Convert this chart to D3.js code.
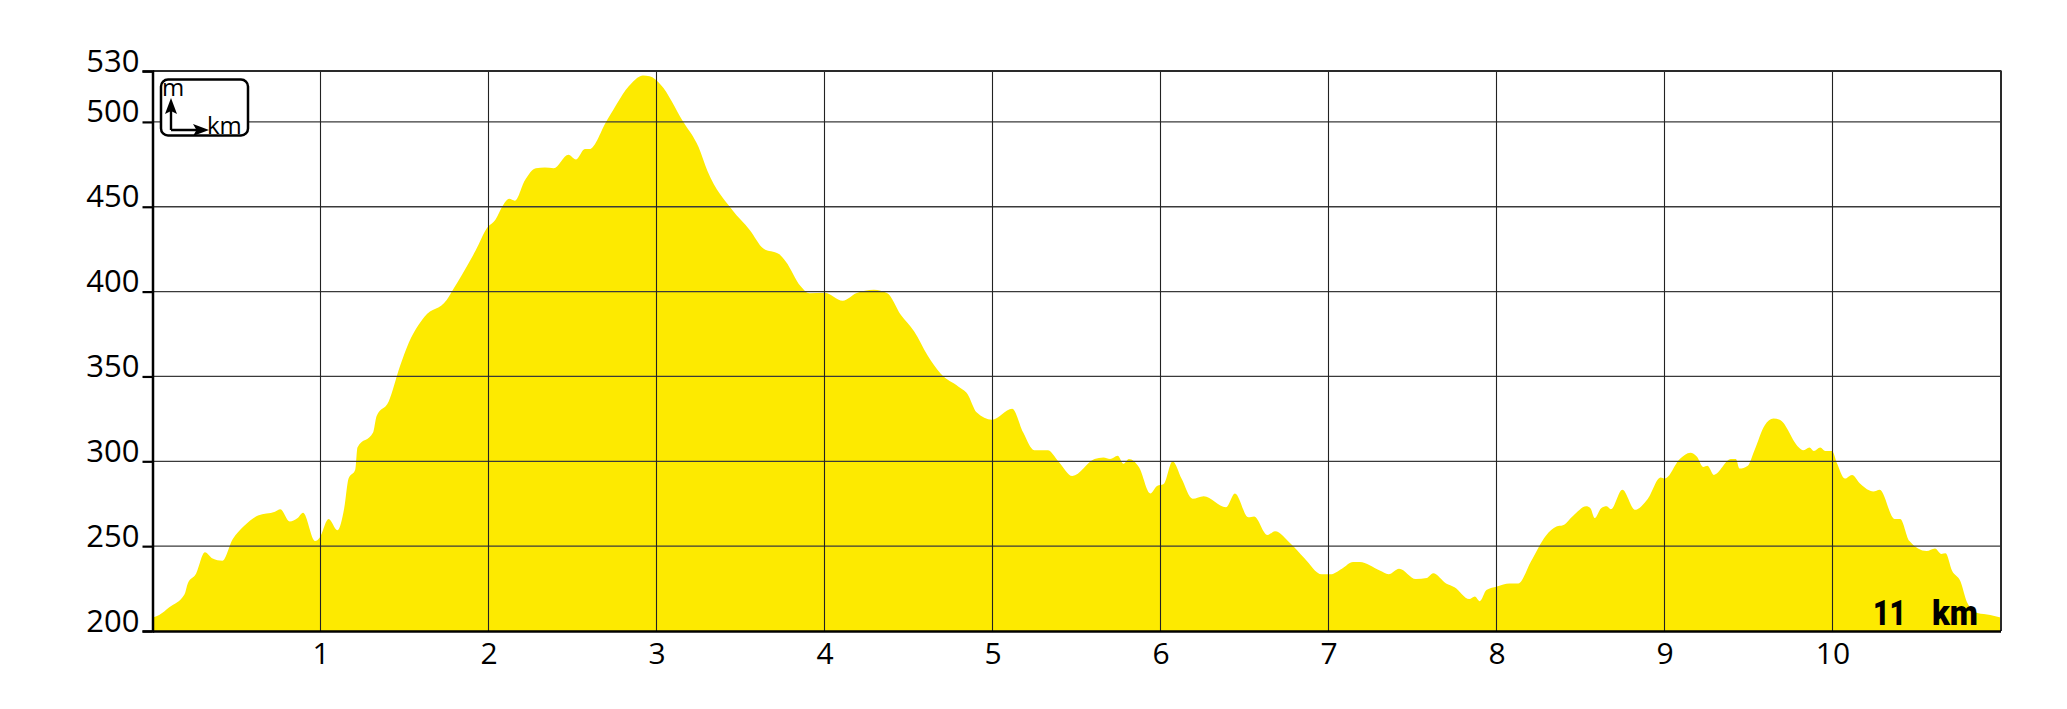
<!DOCTYPE html>
<html>
<head>
<meta charset="utf-8">
<script src="https://cdn.jsdelivr.net/npm/d3@7/dist/d3.min.js"></script>
<style>
  html, body { margin: 0; padding: 0; background: #fff; }
  svg { display: block; }
</style>
</head>
<body>
<svg id="chart" width="2067" height="709"></svg>
<script>
// ---- data ----
const distanceKm = [
  0.00, 0.04, 0.10, 0.19, 0.21, 0.257, 0.312, 0.358, 0.416, 0.477, 0.543, 0.628, 0.729, 0.761,
  0.817, 0.862, 0.896, 0.968, 0.995, 1.048, 1.101, 1.141, 1.167, 1.207, 1.22, 1.313, 1.334,
  1.406, 1.473, 1.526, 1.619, 1.751, 1.791, 1.844, 1.924, 1.99, 2.043, 2.083, 2.123, 2.157,
  2.216, 2.282, 2.335, 2.388, 2.476, 2.521, 2.574, 2.60, 2.707, 2.853, 2.919, 2.959, 3.025,
  3.158, 3.251, 3.304, 3.45, 3.556, 3.636, 3.729, 3.769, 3.857, 3.91, 4.00, 4.109, 4.188,
  4.294, 4.374, 4.454, 4.533, 4.613, 4.692, 4.798, 4.851, 4.905, 4.997, 5.117, 5.183, 5.249,
  5.329, 5.395, 5.475, 5.607, 5.66, 5.70, 5.745, 5.78, 5.812, 5.873, 5.939, 5.979, 6.019,
  6.072, 6.125, 6.191, 6.257, 6.39, 6.443, 6.523, 6.557, 6.637, 6.682, 6.775, 6.854, 6.96,
  7.013, 7.08, 7.146, 7.186, 7.305, 7.358, 7.42, 7.52, 7.585, 7.623, 7.70, 7.75, 7.838,
  7.871, 7.901, 7.94, 8.003, 8.078, 8.129, 8.205, 8.294, 8.357, 8.395, 8.458, 8.534, 8.559,
  8.585, 8.623, 8.656, 8.681, 8.749, 8.825, 8.901, 8.977, 9.003, 9.091, 9.154, 9.192, 9.23,
  9.256, 9.294, 9.395, 9.425, 9.446, 9.496, 9.534, 9.597, 9.648, 9.686, 9.80, 9.825, 9.863,
  9.889, 9.927, 9.957, 9.997, 10.028, 10.073, 10.116, 10.167, 10.243, 10.281, 10.37, 10.403,
  10.458, 10.56, 10.61, 10.648, 10.673, 10.711, 10.762, 10.80, 10.863, 10.939, 11.00
];
const elevationM = [
  208, 209.5, 214, 221.5, 228, 233.4, 246.4, 242.7, 241.4, 254, 261.7, 268.1, 270.3, 271.8,
  264.5, 266.4, 269.7, 253, 255, 266, 259.4, 272.4, 289.8, 295.2, 308.2, 316.9, 326.7,
  335.3, 356, 370, 385.2, 395, 401.5, 410.2, 424.3, 437.3, 442.7, 450.3, 454.7, 453.6,
  465.5, 472.7, 473.1, 472.7, 480.7, 477.9, 484, 484, 501.3, 523, 527.3, 526.9, 521.9,
  500.2, 485, 470.9, 448.2, 436.2, 425.4, 422.1, 417.8, 403.3, 399, 399.3, 394.6, 399,
  401.1, 399, 386.3, 376.6, 362.5, 351.6, 344, 339.7, 328.9, 324.5, 331, 316.9, 306.5,
  306.5, 299.6, 291.3, 301.3, 302.2, 301.3, 303.3, 298.5, 301.3, 296.3, 281.1, 285.5, 286.6,
  300, 289.8, 277.9, 279.4, 272.9, 281.1, 267, 267.5, 256.6, 258.8, 251.4, 243.2, 233.4,
  233.4, 236.7, 240.6, 240.6, 235.6, 233.4, 236.7, 230.6, 231.2, 234, 228, 225.8, 218.8,
  220.4, 217.6, 224.1, 226.2, 228, 228, 241, 256.2, 261.6, 262.3, 268.1, 273.5, 272.4,
  266.6, 272.4, 273.5, 271.8, 283.3, 271.4, 277.9, 290.5, 289.8, 301.3, 305, 302.8, 296.7,
  297.4, 292, 301.3, 301.3, 295.7, 297.4, 306.1, 321.3, 325.2, 324.5, 308.2, 306.5, 308.2,
  306.1, 308.2, 306.1, 306.1, 298.5, 289.8, 292, 286.6, 282.2, 283.3, 266, 266,
  253, 247.1, 248.6, 245.4, 245.8, 235.6, 229.1, 217.1, 210.6, 209.5, 208
];
const xTickValues = [1, 2, 3, 4, 5, 6, 7, 8, 9, 10];
const yTickValues = [200, 250, 300, 350, 400, 450, 500, 530];
const totalLabel = ["11", "km"];
const unitLabels = { vertical: "m", horizontal: "km" };

(function () {
  // ---- layout ----
  const pL = 152.5, pR = 2000.5, pT = 71, pB = 631;
  const x = d3.scaleLinear().domain([0, 11]).range([pL, pR]);
  const y = d3.scaleLinear().domain([200, 530]).range([pB, pT]);

  const svg = d3.select("#chart");
  const font = "'Open Sans', 'DejaVu Sans', sans-serif";
  const points = distanceKm.map((d, i) => ({ km: d, ele: elevationM[i] }));

  // area
  svg.append("path")
    .datum(points)
    .attr("fill", "#FDEA00")
    .attr("d", d3.area()
      .x(d => x(d.km))
      .y0(y(200))
      .y1(d => y(d.ele))
      .curve(d3.curveMonotoneX));

  // horizontal grid
  svg.append("g")
    .selectAll("line")
    .data(yTickValues.filter(v => v > 200 && v < 530))
    .join("line")
    .attr("x1", pL).attr("x2", pR)
    .attr("y1", d => y(d)).attr("y2", d => y(d))
    .attr("stroke", "#3a3a3a").attr("stroke-width", 1.3);

  // vertical grid
  svg.append("g")
    .selectAll("line")
    .data(xTickValues)
    .join("line")
    .attr("x1", d => x(d)).attr("x2", d => x(d))
    .attr("y1", pT).attr("y2", pB)
    .attr("stroke", "#222").attr("stroke-width", 1.1);

  // frame: top & right
  svg.append("line").attr("x1", pL).attr("x2", pR + 1).attr("y1", pT).attr("y2", pT)
    .attr("stroke", "#2a2a2a").attr("stroke-width", 2);
  svg.append("line").attr("x1", pR + 0.5).attr("x2", pR + 0.5).attr("y1", pT).attr("y2", pB)
    .attr("stroke", "#2a2a2a").attr("stroke-width", 2);

  // y axis
  const yAxis = d3.axisLeft(y).tickValues(yTickValues).tickSize(10).tickPadding(0).tickFormat(d3.format("d"));
  const gy = svg.append("g").attr("transform", `translate(${pL},0)`).call(yAxis);
  gy.select(".domain").attr("stroke", "#000").attr("stroke-width", 2.5);
  gy.selectAll(".tick line").attr("stroke", "#000").attr("stroke-width", 2.2);
  gy.selectAll(".tick text")
    .attr("x", -13).attr("dy", 0).attr("y", 0)
    .attr("text-anchor", "end")
    .attr("font-family", font).attr("font-size", 31).attr("fill", "#000");

  // x axis
  const xAxis = d3.axisBottom(x).tickValues(xTickValues).tickSize(0).tickPadding(0).tickFormat(d3.format("d"));
  const gx = svg.append("g").attr("transform", `translate(0,${pB})`).call(xAxis);
  gx.select(".domain").attr("stroke", "#000").attr("stroke-width", 2.5);
  gx.selectAll(".tick text")
    .attr("y", 33).attr("dy", 0)
    .attr("font-family", font).attr("font-size", 30).attr("fill", "#000");

  // total distance label
  const tl = svg.append("g").attr("font-family", "'Roboto', 'Liberation Sans', sans-serif")
    .attr("font-weight", "900").attr("font-size", 35).attr("fill", "#000");
  tl.append("text").attr("x", 1873).attr("y", 625).attr("textLength", 33).attr("lengthAdjust", "spacingAndGlyphs").text(totalLabel[0]);
  tl.append("text").attr("x", 1932).attr("y", 625).attr("textLength", 46).attr("lengthAdjust", "spacingAndGlyphs").text(totalLabel[1]);

  // unit legend box
  const lg = svg.append("g");
  lg.append("rect").attr("x", 161).attr("y", 79.5).attr("width", 87).attr("height", 56)
    .attr("rx", 7).attr("fill", "#fff").attr("stroke", "#000").attr("stroke-width", 2.5);
  lg.append("path").attr("d", "M171,130 L171,110 M171,130 L198,130")
    .attr("stroke", "#000").attr("stroke-width", 2.4).attr("fill", "none");
  lg.append("path").attr("d", "M171,98 L177,114 L171,111 L165,114 Z").attr("fill", "#000");
  lg.append("path").attr("d", "M209,130 L193,124 L196.5,130 L193,136 Z").attr("fill", "#000");
  lg.append("text").attr("x", 162).attr("y", 96).attr("font-family", font).attr("font-size", 24).text(unitLabels.vertical);
  lg.append("text").attr("x", 207).attr("y", 134).attr("font-family", font).attr("font-size", 24).text(unitLabels.horizontal);
})();
</script>
</body>
</html>
